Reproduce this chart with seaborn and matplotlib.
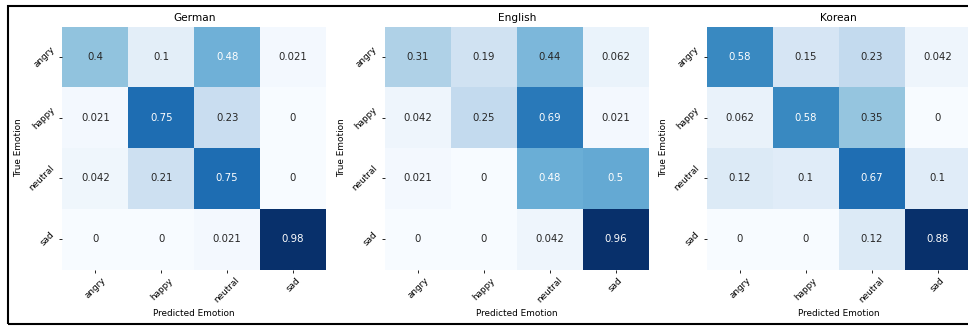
import numpy as np
import matplotlib
matplotlib.use("Agg")
import matplotlib.pyplot as plt
import matplotlib.patches as mpatches
import seaborn as sns

emotions = ["angry", "happy", "neutral", "sad"]
languages = ["German", "English", "Korean"]

german = [[0.4, 0.1, 0.48, 0.021],
          [0.021, 0.75, 0.23, 0],
          [0.042, 0.21, 0.75, 0],
          [0, 0, 0.021, 0.98]]
english = [[0.31, 0.19, 0.44, 0.062],
           [0.042, 0.25, 0.69, 0.021],
           [0.021, 0, 0.48, 0.5],
           [0, 0, 0.042, 0.96]]
korean = [[0.58, 0.15, 0.23, 0.042],
          [0.062, 0.58, 0.35, 0],
          [0.12, 0.1, 0.67, 0.1],
          [0, 0, 0.12, 0.88]]
matrices = [german, english, korean]

plt.rcParams['font.family'] = ['DejaVu Sans']

W, H = 968, 327
fig = plt.figure(figsize=(W / 100, H / 100), dpi=100)

lefts = [62.5, 385, 707]
ax_w = 263.5
top, bottom = 26.7, 269.5

for name, mat, lx in zip(languages, matrices, lefts):
    ax = fig.add_axes([lx / W, 1 - bottom / H, ax_w / W, (bottom - top) / H])
    sns.heatmap(np.array(mat), annot=True, fmt=".2g", cmap="Blues", cbar=False,
                xticklabels=emotions, yticklabels=emotions, ax=ax,
                annot_kws={"fontsize": 7.3})
    ax.set_title(name, fontsize=7.6, pad=4)
    ax.set_xlabel("Predicted Emotion", fontsize=6.4, labelpad=3)
    ax.set_ylabel("True Emotion", fontsize=6.4, labelpad=3)
    ax.tick_params(axis='both', labelsize=6.4, length=2.5, width=0.6, pad=2)
    plt.setp(ax.get_xticklabels(), rotation=45, ha='center', va='top')
    plt.setp(ax.get_yticklabels(), rotation=45, ha='right', va='center')

border = mpatches.Rectangle((7.5 / W, 1 - 323.8 / H), 1.2, (323.8 - 5.5) / H,
                            transform=fig.transFigure, fill=False,
                            edgecolor='black', linewidth=1.5, clip_on=False)
fig.patches.append(border)

fig.savefig("out.png", dpi=100)
